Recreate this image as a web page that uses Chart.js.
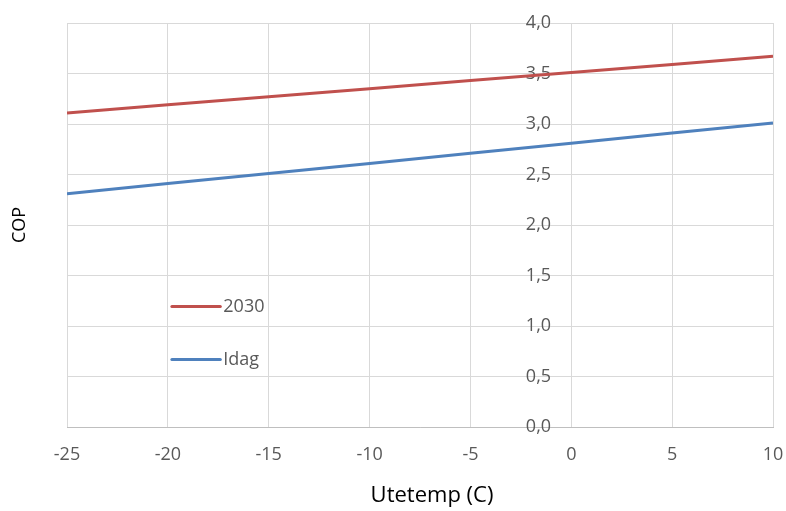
<!DOCTYPE html>
<html>
<head>
<meta charset="utf-8">
<script src="https://cdn.jsdelivr.net/npm/chart.js@4/dist/chart.umd.min.js"></script>
<style>
  html, body { margin: 0; padding: 0; background: #fff; }
  #wrap { width: 786px; height: 511px; }
</style>
</head>
<body>
<div id="wrap"><canvas id="c" width="786" height="511"></canvas></div>
<script>
// Outdoor temperature (°C) and heat-pump COP
const temps = [-25, -20, -15, -10, -5, 0, 5, 10];
const cop2030 = [3.11, 3.19, 3.27, 3.35, 3.43, 3.51, 3.59, 3.67];
const copIdag = [2.31, 2.41, 2.51, 2.61, 2.71, 2.81, 2.91, 3.01];
const seriesNames = ['2030', 'Idag'];
const xTitle = 'Utetemp (C)';
const yTitle = 'COP';

const FONT = '"Open Sans", "Noto Sans", sans-serif';
const TICK_COLOR = '#595959';
const GRID = '#d9d9d9';

const toPoints = (ys) => temps.map((t, i) => ({ x: t, y: ys[i] }));

// Legend inside the plot area plus the two axis titles
const decorations = {
  id: 'decorations',
  afterDraw(chart) {
    const ctx = chart.ctx;
    const xs = chart.scales.x, ys = chart.scales.y;
    ctx.save();
    const entries = [
      { ds: chart.data.datasets[0], yv: 1.2 },
      { ds: chart.data.datasets[1], yv: 0.67 }
    ];
    const x0 = xs.getPixelForValue(-19.8);
    const x1 = xs.getPixelForValue(-17.4);
    entries.forEach(e => {
      const py = Math.round(ys.getPixelForValue(e.yv)) + 0.5;
      ctx.strokeStyle = e.ds.borderColor;
      ctx.lineWidth = 3;
      ctx.lineCap = 'round';
      ctx.beginPath();
      ctx.moveTo(x0, py);
      ctx.lineTo(x1, py);
      ctx.stroke();
      ctx.fillStyle = TICK_COLOR;
      ctx.font = '18px ' + FONT;
      ctx.textAlign = 'left';
      ctx.textBaseline = 'middle';
      ctx.fillText(e.ds.label, x1 + 3, py);
    });
    ctx.fillStyle = '#000';
    ctx.textAlign = 'center';
    ctx.textBaseline = 'middle';
    ctx.font = '22px ' + FONT;
    ctx.fillText(xTitle, 432, 496);
    ctx.font = '18px ' + FONT;
    ctx.translate(20, 225);
    ctx.rotate(-Math.PI / 2);
    ctx.fillText(yTitle, 0, 0);
    ctx.restore();
  }
};

new Chart(document.getElementById('c'), {
  type: 'line',
  data: {
    datasets: [
      { label: seriesNames[0], data: toPoints(cop2030), borderColor: '#C0504D', borderWidth: 3, pointRadius: 0, tension: 0, fill: false },
      { label: seriesNames[1], data: toPoints(copIdag), borderColor: '#4F81BD', borderWidth: 3, pointRadius: 0, tension: 0, fill: false }
    ]
  },
  options: {
    responsive: false,
    animation: false,
    layout: { padding: { left: 67, right: 13, top: 23, bottom: 49 } },
    plugins: { legend: { display: false }, tooltip: { enabled: false } },
    scales: {
      x: {
        type: 'linear',
        min: -25, max: 10,
        grid: { color: GRID, lineWidth: 1, drawTicks: false },
        border: { color: '#bfbfbf', width: 1 },
        ticks: { stepSize: 5, padding: 17, color: TICK_COLOR, font: { family: FONT, size: 18 }, maxRotation: 0 },
        afterFit: (s) => { s.height = 35; s.paddingLeft = 0; s.paddingRight = 0; }
      },
      y: {
        type: 'linear',
        // tick labels sit just left of the x = 0 line
        position: { x: -1 },
        min: 0, max: 4,
        grid: { color: GRID, lineWidth: 1, drawTicks: false },
        border: { display: false },
        ticks: {
          stepSize: 0.5, color: TICK_COLOR,
          font: { family: FONT, size: 18 },
          callback: (v) => v.toFixed(1).replace('.', ',')
        },
        afterFit: (s) => { s.width = 0; s.paddingTop = 0; s.paddingBottom = 0; }
      }
    }
  },
  plugins: [decorations]
});
</script>
</body>
</html>
